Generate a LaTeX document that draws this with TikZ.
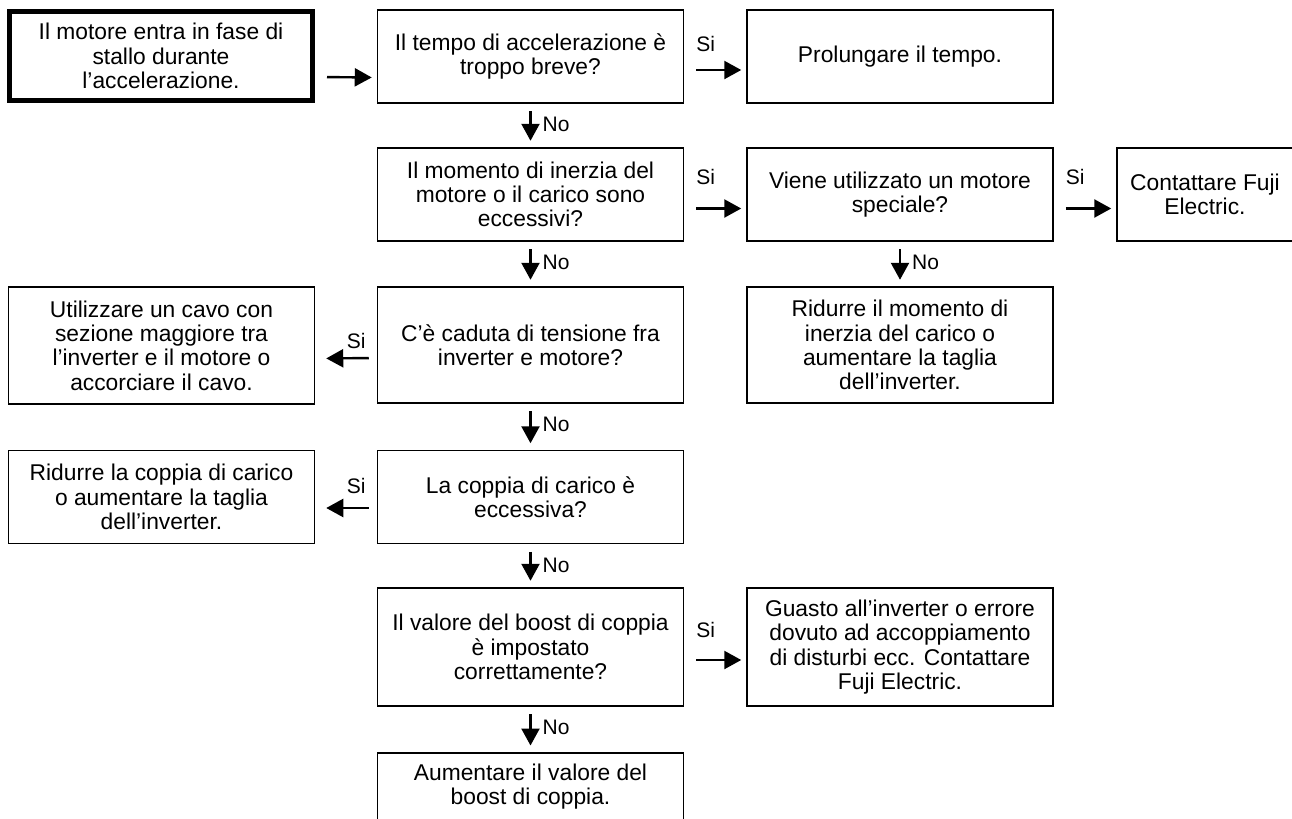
\documentclass[tikz,border=0pt]{standalone}
\usepackage{fontspec}
\setmainfont{Liberation Sans}
\usetikzlibrary{arrows.meta, calc}

\begin{document}
\begin{tikzpicture}[x=0.5pt, y=-0.5pt,
    box/.style={draw, line width=0.75pt, align=center, inner sep=0pt,
        minimum width=153pt, minimum height=46.5pt,
        font=\fontsize{11.4}{12.15}\selectfont},
    flow/.style={-{Triangle[length=8.5pt, width=9pt]}, line width=1.2pt},
    lbl/.style={inner sep=0pt, font=\fontsize{10.5}{12}\selectfont}]
    \useasboundingbox (0,0) rectangle (1292,819);

    % Starting symptom
    \node[box, line width=2.5pt, minimum width=151.5pt, minimum height=44.5pt] (stall) at (161,56) {Il motore entra in fase di\\stallo durante\\l’accelerazione.};

    % Questions down the middle column
    \node[box] (qtime) at (530.5,56.5) {Il tempo di accelerazione è\\troppo breve?};
    \node[box] (qinertia) at (530.5,194.5) {Il momento di inerzia del\\motore o il carico sono\\eccessivi?};
    \node[box, minimum height=58pt] (qdrop) at (530.5,345) {C’è caduta di tensione fra\\inverter e motore?};
    \node[box] (qload) at (530.5,497) {La coppia di carico è\\eccessiva?};
    \node[box, minimum height=59pt] (qboost) at (530.5,647) {Il valore del boost di coppia\\è impostato\\correttamente?};
    \node[box, minimum height=43.5pt, anchor=north] (aboost) at (530.5,752) {Aumentare il valore del\\boost di coppia.\\ \mbox{}};

    % Remedies on the right
    \node[box] (aprolong) at (900,56.5) {Prolungare il tempo.};
    \node[box] (qspecial) at (900,194.5) {Viene utilizzato un motore\\speciale?};
    \node[box, minimum width=88pt] (acontact) at (1205,194.5) {Contattare Fuji\\Electric.};
    \node[box, minimum height=58pt] (areduce) at (900,345) {Ridurre il momento di\\inerzia del carico o\\aumentare la taglia\\dell’inverter.};
    \node[box, minimum height=59pt] (afault) at (900,647) {Guasto all’inverter o errore\\dovuto ad accoppiamento\\di disturbi ecc. Contattare\\Fuji Electric.};

    % Remedies on the left
    \node[box, minimum height=58.5pt] (acable) at (161.5,345.5) {Utilizzare un cavo con\\sezione maggiore tra\\l’inverter e il motore o\\accorciare il cavo.};
    \node[box] (atorque) at (161.5,497) {Ridurre la coppia di carico\\o aumentare la taglia\\dell’inverter.};

    % Draw the horizontal arrows
    \draw[flow, shorten <=6pt, shorten >=2.5pt] ($(stall.east)+(0,21)$) -- ($(qtime.west)+(0,21)$);
    \draw[flow, shorten <=6pt, shorten >=2.5pt] ($(qtime.east)+(0,13.5)$) -- ($(aprolong.west)+(0,13.5)$)
        node[lbl, pos=0, anchor=base west, xshift=5.5pt, yshift=9pt] {Si};
    \draw[flow, shorten <=6pt, shorten >=2.5pt] ($(qinertia.east)+(0,14)$) -- ($(qspecial.west)+(0,14)$)
        node[lbl, pos=0, anchor=base west, xshift=5.5pt, yshift=12pt] {Si};
    \draw[flow, shorten <=6pt, shorten >=2.5pt] ($(qspecial.east)+(0,14)$) -- ($(acontact.west)+(0,14)$)
        node[lbl, pos=0, anchor=base west, xshift=5.5pt, yshift=12pt] {Si};
    \draw[flow, shorten <=4pt, shorten >=5.5pt] ($(qdrop.west)+(0,13)$) -- ($(acable.east)+(0,13)$)
        node[lbl, pos=0, anchor=base east, xshift=-5pt, yshift=5pt] {Si};
    \draw[flow, shorten <=4pt, shorten >=5.5pt] ($(qload.west)+(0,11)$) -- ($(atorque.east)+(0,11)$)
        node[lbl, pos=0, anchor=base east, xshift=-5pt, yshift=7.5pt] {Si};
    \draw[flow, shorten <=6pt, shorten >=2.5pt] ($(qboost.east)+(0,13)$) -- ($(afault.west)+(0,13)$)
        node[lbl, pos=0, anchor=base west, xshift=5.5pt, yshift=11.5pt] {Si};

    % Draw the vertical arrows
    \draw[flow, shorten <=3.75pt, shorten >=3.25pt] (qtime) -- (qinertia)
        node[lbl, pos=0, anchor=west, xshift=5.5pt, yshift=-10.5pt] {No};
    \draw[flow, shorten <=3.75pt, shorten >=3.25pt] (qspecial) -- (areduce)
        node[lbl, pos=0, anchor=west, xshift=5.5pt, yshift=-10.5pt] {No};
    \draw[flow, shorten <=3.75pt, shorten >=3.25pt] (qinertia) -- (qdrop)
        node[lbl, pos=0, anchor=west, xshift=5.5pt, yshift=-10.5pt] {No};
    \draw[flow, shorten <=3.75pt, shorten >=3.25pt] (qdrop) -- (qload)
        node[lbl, pos=0, anchor=west, xshift=5.5pt, yshift=-10.5pt] {No};
    \draw[flow, shorten <=3.75pt, shorten >=3.25pt] (qload) -- (qboost)
        node[lbl, pos=0, anchor=west, xshift=5.5pt, yshift=-10.5pt] {No};
    \draw[flow, shorten <=3.75pt, shorten >=3.25pt] (qboost) -- (aboost)
        node[lbl, pos=0, anchor=west, xshift=5.5pt, yshift=-10.5pt] {No};
\end{tikzpicture}
\end{document}
